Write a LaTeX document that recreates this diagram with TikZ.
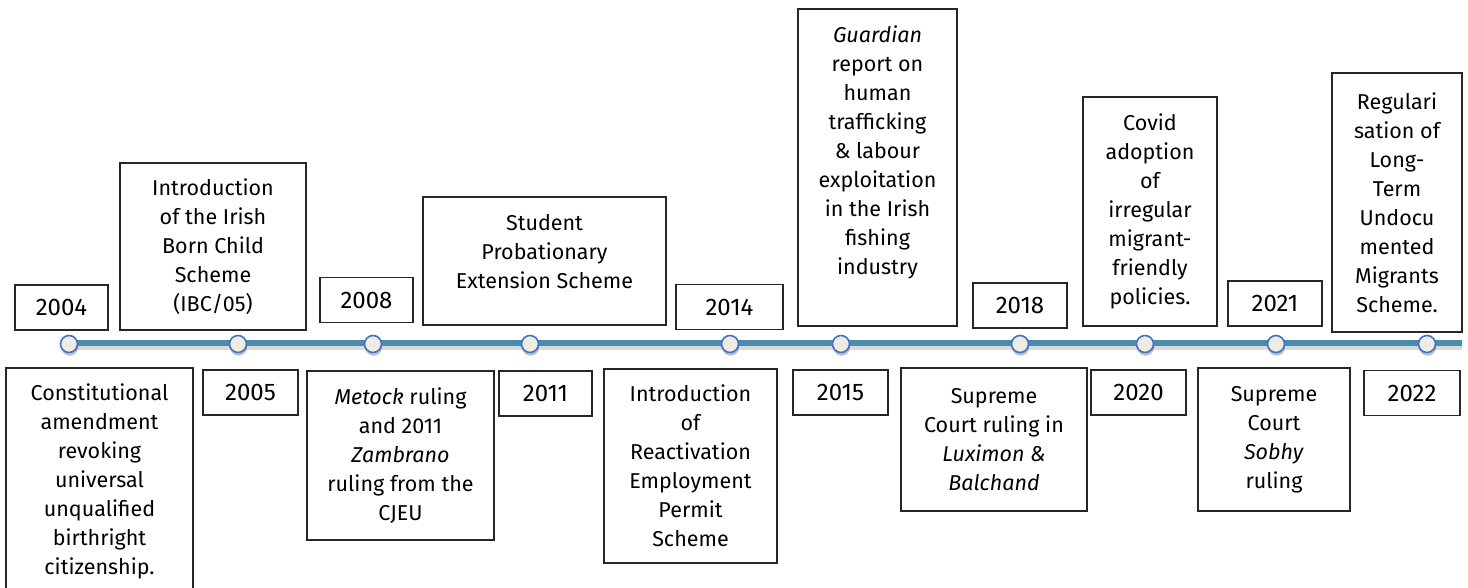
\documentclass[tikz,border=0pt]{standalone}
\usepackage{fontspec}
\setmainfont{Fira Sans}
\usetikzlibrary{shadows}
\definecolor{lineblue}{RGB}{74,139,176}
\definecolor{dotblue}{RGB}{68,114,196}
\definecolor{dotfill}{RGB}{238,236,225}
\tikzset{
    event/.style={draw=black!85, line width=0.6pt, align=center, inner sep=0pt, font=\fontsize{10.75}{14.5}\selectfont},
    yearbox/.style={event, minimum height=22.5pt, font=\fontsize{12}{14.5}\selectfont},
    marker/.style={circle, draw=dotblue, line width=0.8pt, fill=dotfill, minimum size=8.5pt, inner sep=0pt,
        drop shadow={shadow xshift=0.3pt, shadow yshift=-1.6pt, fill=black, opacity=.25}},
}
\begin{document}
\begin{tikzpicture}[x=0.5pt, y=-0.5pt]
    \useasboundingbox (0,0) rectangle (1468,588);
    \coordinate (start) at (69,343);
    \coordinate (finish) at (1462,343);
    \draw[black, opacity=.15, line width=3pt] ([yshift=-2pt]start) -- ([yshift=-2pt]finish);
    \draw[lineblue, line width=2.8pt] (start) -- (finish);
    \foreach \x/\n in {69/m2004,238/m2005,373/m2008,530/m2011,730/m2014,841/m2015,1020/m2018,1145/m2020,1276/m2021,1427/m2022}{
        \node[marker] (\n) at (\x,344) {};
    }
    \foreach \x/\y/\w/\n/\l in {61.5/307.5/93/y2004/2004,250.5/392.5/95/y2005/2005,366.5/300/93/y2008/2008,545.5/393.5/93/y2011/2011,729.5/307/107/y2014/2014,840.5/392.5/95/y2015/2015,1020/305.5/94/y2018/2018,1138.5/392.5/95/y2020/2020,1275/303.5/94/y2021/2021,1412/393/96/y2022/2022}{
        \node[yearbox, minimum width=\w*0.5pt] (\n) at (\x,\y) {\l};
    }
    \node[event, minimum width=93pt, minimum height=83.5pt] (ibc) at (213,246.5) {Introduction\\of the Irish\\Born Child\\Scheme\\(IBC/05)};
    \node[event, minimum width=121.5pt, minimum height=64pt] (student) at (544.5,261) {Student\\Probationary\\Extension Scheme\\[-5pt]\mbox{}};
    \node[event, minimum width=79.5pt, minimum height=158.5pt] (guardian) at (877.5,167.5) {\textit{Guardian}\\report on\\human\\trafficking\\\& labour\\exploitation\\in the Irish\\fishing\\industry\\[3pt]\mbox{}};
    \node[event, minimum width=67pt, minimum height=114.5pt] (covid) at (1150,211.5) {Covid\\adoption\\of\\irregular\\migrant-\\friendly\\policies.};
    \node[event, minimum width=65pt, minimum height=129.5pt] (regul) at (1397,202.5) {Regulari\\sation of\\Long-\\Term\\Undocu\\mented\\Migrants\\Scheme.};
    \node[event, minimum width=93.5pt, minimum height=113pt] (const) at (99.5,481) {Constitutional\\amendment\\revoking\\universal\\unqualified\\birthright\\citizenship.};
    \node[event, minimum width=93.5pt, minimum height=84.5pt] (metock) at (400.5,455.5) {\textit{Metock} ruling\\and 2011\\\textit{Zambrano}\\ruling from the\\CJEU};
    \node[event, minimum width=86.5pt, minimum height=97pt] (react) at (690.5,466) {Introduction\\of\\Reactivation\\Employment\\Permit\\Scheme};
    \node[event, minimum width=93pt, minimum height=71.5pt] (luximon) at (994,439.5) {Supreme\\Court ruling in\\\textit{Luximon \&}\\\textit{Balchand}};
    \node[event, minimum width=76pt, minimum height=71.5pt] (sobhy) at (1274,439.5) {Supreme\\Court\\\textit{Sobhy}\\ruling};
\end{tikzpicture}
\end{document}
